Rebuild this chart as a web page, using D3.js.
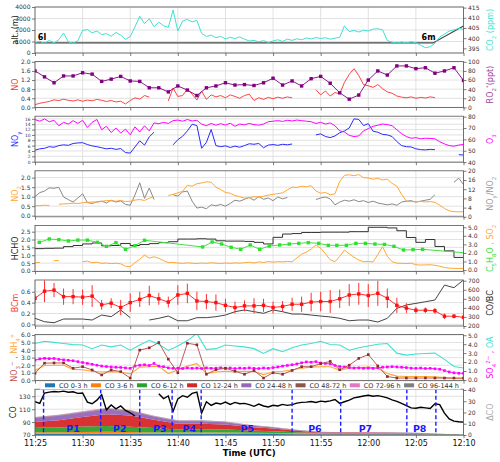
<!DOCTYPE html>
<html>
<head>
<meta charset="utf-8">
<script src="https://cdn.jsdelivr.net/npm/d3@7"></script>
<style>
body { margin: 0; background: #fff; }
svg text { font-family: "DejaVu Sans", sans-serif; }
</style>
</head>
<body>
<svg id="chart" width="500" height="462"></svg>
<script>
// ---- time (minutes after 11:25) ----
var timeTicks = [0, 5, 10, 15, 20, 25, 30, 35, 40, 45];
var timeLabels = ["11:25", "11:30", "11:35", "11:40", "11:45", "11:50", "11:55", "12:00", "12:05", "12:10"];
var tHalf = d3.range(0, 45.5, 0.5);   // 30 s samples
var tMin = d3.range(0, 46, 1);        // 1 min samples

// ---- panel 1: altitude / CO2 ----
var altMin = [0, 41.8, 45];
var alt = [880, 880, 2350];
var co2 = [397.8,398.5,397.4,398.9,397.6,399.3,402.5,398.2,397.5,398.8,
  403.8,404.2,402.6,403.5,401.8,402.2,401.0,402.8,401.5,399.4,
  400.8,405.5,410.8,407.2,409.5,405.6,407.8,406.1,405.3,413.8,
  403.5,408.4,409.2,408.0,408.7,402.4,400.8,401.5,400.2,400.9,
  399.6,400.4,399.8,400.6,399.5,398.6,398.9,398.2,398.8,397.9,
  398.6,399.2,398.4,399.5,398.9,399.7,399.2,400.1,399.6,400.3,
  399.8,400.2,399.5,400.0,400.4,406.0,403.2,403.8,403.0,403.9,
  403.5,404.4,404.6,404.1,398.8,398.0,397.6,398.1,397.7,398.2,
  397.8,396.5,395.3,395.8,397.5,400.5,402.0,403.5,404.0,404.8,
  404.3];
var altTicks = [0, 1000, 2000, 3000, 4000];
var co2Ticks = [395, 400, 405, 410, 415];

// ---- panel 2: NO / RO2* ----
var no = [0.12,0.18,0.22,0.26,0.33,0.30,0.36,0.31,0.28,0.33,
  0.27,0.32,0.29,0.35,0.31,0.26,0.30,0.24,0.27,0.15,
  0.30,0.42,0.36,0.52,0.45,null,null,null,0.28,0.85,
  0.48,0.52,0.80,0.58,0.32,0.72,0.35,0.55,0.46,0.52,
  0.42,0.55,0.48,0.40,0.52,0.58,0.30,0.42,0.35,0.44,
  0.38,0.45,0.40,0.46,0.42,null,null,null,null,0.78,
  0.55,0.72,0.50,0.65,0.60,1.10,1.45,1.70,1.40,1.00,
  0.95,0.88,1.00,0.82,0.68,0.62,0.50,0.45,0.42,0.46,
  0.40,0.44,0.41,0.46,0.43,null,null,null,null,null,
  null];
var ro2 = [80,67,54,69,69,76,73,57,62,68,58,57,43,43,34,47,38,26,43,47,
  54,49,50,48,54,64,49,58,47,63,68,53,32,18,27,60,80,71,91,91,
  85,87,75,80,87,59];
var noTicks = [0, 0.4, 0.8, 1.2, 1.6, 2.0];
var ro2Ticks = [0, 20, 40, 60, 80, 100];

// ---- panel 3: NOy / O3 ----
var noy = [4.3,4.8,5.0,5.6,5.4,6.0,6.3,6.1,6.8,7.0,
  7.1,6.4,5.9,5.6,5.2,4.8,5.0,4.6,4.9,3.4,
  3.2,5.5,7.8,6.2,9.3,11.0,null,null,null,6.3,
  8.2,9.5,11.5,14.0,13.5,5.0,7.2,12.0,6.0,5.6,
  5.9,5.3,5.8,5.4,6.0,6.7,6.5,6.8,5.2,6.2,
  6.4,6.1,6.5,6.3,6.6,null,null,null,null,10.0,
  10.4,9.4,9.0,9.6,10.8,11.5,12.6,16.0,15.8,13.5,
  14.2,11.4,11.0,10.2,10.0,9.4,7.5,6.0,5.6,5.5,
  4.8,4.5,4.4,4.6,4.5,null,null,null,null,2.6,
  2.5];
var o3 = [77.4,76.0,78.0,75.5,76.8,72.0,75.0,73.5,76.5,74.0,
  76.8,70.5,75.0,77.5,68.5,71.5,66.0,70.0,65.5,69.0,
  64.0,71.0,66.5,72.0,67.5,74.5,73.8,75.0,74.0,76.5,
  77.0,76.0,77.5,76.2,76.8,73.5,72.0,74.0,72.5,73.8,
  72.6,74.2,71.5,73.5,72.8,74.0,73.0,72.5,73.5,75.5,
  76.0,76.5,75.8,76.8,76.2,77.0,76.5,76.0,75.5,74.0,
  75.0,73.5,74.5,72.0,67.5,66.5,63.5,62.5,63.0,67.5,
  69.5,71.5,72.5,73.5,73.0,72.0,68.5,65.0,62.5,61.0,
  61.5,60.5,61.0,60.8,60.5,58.0,56.0,54.5,54.0,55.0,
  55.5];
var noyTicks = [0, 2, 4, 6, 8, 10, 12, 14, 16];
var o3Ticks = [40, 50, 60, 70, 80];

// ---- panel 4: NO2 / NOy/NO2 ----
var no2 = [0.52,0.53,0.55,0.54,null,0.60,0.62,0.63,0.66,0.64,
  0.68,0.70,0.72,0.71,0.75,0.80,0.78,0.76,0.80,0.74,
  0.76,0.82,0.85,0.80,0.92,1.00,null,null,1.06,1.12,
  1.20,1.28,1.60,1.55,1.68,1.72,1.78,1.76,1.50,1.38,
  1.22,1.18,1.06,1.00,0.92,0.95,1.00,0.98,1.02,1.08,
  1.12,1.16,1.20,1.35,1.50,1.48,1.55,1.52,1.58,1.30,
  1.18,1.22,1.10,1.15,1.80,2.12,2.15,2.10,2.16,2.00,
  1.98,1.92,1.96,1.88,1.92,1.70,1.55,1.12,0.76,0.74,
  0.73,0.75,0.72,0.74,0.70,0.55,0.38,0.25,0.21,0.20,
  0.21];
var ratio = [8.8,10.5,11.2,12.6,12.4,12.8,8.6,7.5,6.4,8.2,
  10.0,6.2,5.8,6.5,6.8,6.0,7.2,6.4,6.9,5.4,
  5.0,9.5,14.8,8.0,12.5,7.5,null,null,null,9.6,
  9.0,10.8,11.2,6.8,3.8,4.2,3.5,5.2,4.8,5.4,
  4.6,5.8,7.2,6.8,7.6,8.4,7.2,8.8,7.6,8.2,
  7.0,8.6,7.8,8.4,null,null,null,null,null,7.5,
  8.2,8.6,7.8,5.2,6.4,7.2,6.8,7.4,6.6,7.0,
  6.2,6.8,6.0,5.6,5.2,5.6,5.0,6.4,6.8,7.0,
  6.4,6.8,7.2,7.6,9.6,null,null,null,15.0,16.8,
  14.0];
var no2Ticks = [0, 0.5, 1.0, 1.5, 2.0];
var ratioTicks = [0, 4, 8, 12, 16, 20];

// ---- panel 5: HCHO / C5H8O, SO2 ----
var hcho = [1.42,1.44,1.45,1.55,1.62,1.72,1.78,1.60,1.62,1.75,
  1.62,1.68,1.74,1.80,1.86,2.03,2.03,2.05,2.03,1.92,
  1.90,1.90,1.88,1.82,1.72,2.14,2.35,2.38,2.45,2.45,
  2.47,2.47,2.47,2.50,2.50,2.78,2.78,2.74,2.56,2.13,
  1.82,2.00,1.56,1.28,0.86,0.86];
var c5Min = [0.45,1.5,2.5,3.5,4.5,5.5,6.55,7.5,8.5,9.5,10.5,11.5,
  17.6,18.6,19.6,20.6,21.6,22.6,23.6,24.6,25.7,26.7,27.7,28.7,29.8,30.8,
  31.7,32.7,33.7,34.7,35.7,36.7,37.7,38.7,39.7,40.7,45];
var c5 = [3.24,3.63,3.55,3.40,3.50,3.50,3.24,2.77,3.20,2.42,2.85,3.48,
  2.70,3.28,3.04,2.66,2.42,2.93,2.42,2.81,2.93,3.04,3.12,3.20,3.12,2.89,
  2.89,2.89,3.12,3.12,3.04,3.00,2.77,2.34,2.38,2.42,2.03];
var so2 = [0.86,0.88,null,null,1.09,1.12,null,null,null,null,
  0.97,1.05,0.85,0.92,0.78,0.82,0.75,0.80,0.72,0.45,
  0.38,0.85,1.25,1.76,1.40,1.55,1.37,1.10,0.86,0.90,
  0.82,0.78,0.84,0.80,0.76,0.82,0.78,0.85,0.80,0.76,
  0.82,0.78,0.84,0.80,0.86,0.92,0.82,0.96,0.88,1.00,
  0.92,0.98,0.95,1.02,0.96,1.40,1.85,2.10,2.45,2.93,
  2.55,1.90,1.20,0.97,1.60,2.34,1.90,1.50,1.17,0.97,
  1.00,0.95,1.80,2.73,1.60,0.97,0.80,0.78,0.75,0.80,
  0.62,0.58,0.60,0.62,0.55,0.45,0.30,0.22,0.20,0.18,
  0.20];
var hchoTicks = [0, 0.5, 1.0, 1.5, 2.0, 2.5];
var c5Ticks = [0, 1, 2, 3, 4, 5];

// ---- panel 6: BCm / CO/BC ----
var bcm = [0.48,0.61,0.63,0.51,0.51,0.50,0.52,0.36,0.39,0.31,
  0.40,0.46,0.53,0.47,0.41,0.54,0.57,0.43,0.42,0.40,
  0.35,0.31,0.34,0.34,0.35,0.31,0.33,0.37,0.37,0.41,
  0.42,0.42,0.47,0.54,0.56,0.53,0.57,0.48,0.35,0.30,
  0.26,0.26,0.25,0.15,0.15,0.13];
var bcmErr = [0.09,0.20,0.13,0.15,0.14,0.14,0.20,0.09,0.09,0.14,
  0.17,0.14,0.18,0.11,0.10,0.18,0.18,0.17,0.14,0.15,
  0.12,0.11,0.10,0.14,0.12,0.11,0.10,0.12,0.14,0.17,
  0.18,0.21,0.17,0.20,0.20,0.21,0.23,0.18,0.14,0.09,
  0.06,0.05,0.05,0.05,0.04,0.04];
var coBc = [285,247,236,277,277,277,266,321,303,377,
  292,null,266,285,310,258,258,292,292,303,
  321,358,377,358,340,377,358,332,332,321,
  310,300,285,258,266,266,244,285,395,432,
  450,468,487,652,623,708];
var bcmTicks = [0, 0.2, 0.4, 0.6];
var coBcTicks = [200, 300, 400, 500, 600, 700];

// ---- panel 7: NO3-, NH4+ / SO4, OA ----
var no3 = [0.93,2.27,2.3,2.3,1.6,1.8,1.37,0.71,1.37,1.15,
  0.3,4.0,4.3,5.0,2.8,1.0,4.9,4.7,0.8,1.4,
  1.6,1.2,0.8,1.3,0.3,1.0,0.8,1.3,1.8,1.8,
  2.2,2.5,1.4,2.0,2.9,3.4,1.9,0.5,0.3,0.3,
  0.3,0.3,0.3,0.3,0.3,0.3];
var nh4 = [1.3,1.95,2.0,2.0,1.45,1.4,1.2,1.1,1.15,1.1,
  0.85,1.75,1.8,1.85,0.9,1.4,1.9,2.2,0.9,1.1,
  1.2,1.15,1.2,1.15,0.75,1.1,1.2,1.4,1.6,1.75,
  1.8,1.8,1.35,1.6,1.7,1.75,1.6,0.9,0.55,0.5,
  0.5,0.5,0.45,0.35,0.25,0.2];
var oa = [4.07,4.33,4.2,4.07,3.95,3.9,3.5,3.9,3.7,3.9,
  3.33,3.9,4.44,4.0,3.3,3.8,4.4,5.2,3.4,3.5,
  3.9,3.8,3.7,3.5,2.96,3.5,3.15,3.6,3.9,4.07,
  4.33,3.96,3.9,3.33,3.6,3.8,4.0,4.07,3.0,2.78,
  2.9,2.96,3.0,2.3,1.5,1.33];
var so4 = [2.22,2.35,2.42,2.38,2.40,2.30,2.25,2.20,2.15,2.05,
  1.95,1.85,1.75,1.65,1.55,1.50,1.45,1.42,1.40,1.35,
  1.30,1.55,1.65,1.70,1.62,1.85,1.55,1.48,1.35,1.30,
  1.32,1.28,1.35,1.30,1.33,1.28,1.35,1.30,1.32,1.36,
  1.30,1.34,1.28,1.33,1.30,1.35,1.30,1.28,1.34,1.30,
  1.38,1.45,1.55,1.62,1.70,1.80,1.92,2.02,1.98,2.05,
  1.90,1.85,1.80,1.62,1.50,1.45,1.38,1.33,1.35,1.30,
  1.33,1.30,1.35,1.42,1.45,1.48,1.45,1.42,1.38,1.32,
  1.30,1.33,1.28,1.30,1.25,1.20,1.05,0.90,0.80,0.75,
  0.74];
var aerLTicks = [0, 1, 2, 3, 4, 5, 6];
var aerRTicks = [0, 1, 2, 3, 4, 5];

// ---- panel 8: CO / model CO contributions ----
var co = [121.5,119.0,135.0,136.5,137.5,136.8,138.0,136.2,137.0,134.5,
  135.2,121.0,118.5,124.0,132.5,109.0,116.5,110.5,115.0,108.0,
  104.5,99.5,null,null,null,null,134.0,126.5,130.5,106.5,
  126.0,131.0,128.5,134.5,136.5,104.0,121.5,116.0,119.5,118.0,
  121.0,117.5,120.5,118.5,119.0,117.0,114.5,118.0,115.0,113.5,
  116.0,115.0,117.5,116.0,117.0,119.5,120.5,121.0,122.0,120.5,
  122.5,121.5,123.0,125.0,119.0,121.5,124.0,127.5,129.0,130.5,
  131.5,130.0,131.0,129.5,127.5,124.5,122.0,119.0,115.5,112.0,
  111.5,113.0,112.0,111.0,118.5,117.0,104.0,95.0,91.5,90.5,
  90.0];
var coTimes = [0,2.5,5,7.5,10,12.5,15,17.5,20,22.5,25,27.5,30,32.5,35,37.5,40,42.5,45];
var co0_3   = [1.2,1.2,1.3,1.3,1.2,1.1,1.0,1.0,1.0,0.9,0.8,0.7,0.6,0.6,0.7,0.7,0.6,0.4,0.2];
var co3_6   = [1.3,1.3,1.4,1.5,1.4,1.2,1.1,1.1,1.1,1.0,0.9,0.8,0.7,0.6,0.6,0.6,0.5,0.3,0.1];
var co6_12  = [4.0,4.2,4.8,5.2,4.8,3.8,2.8,2.9,2.7,2.0,1.6,1.0,0.5,0.4,0.5,0.4,0.4,0.2,0.1];
var co12_24 = [5.0,6.5,8.5,10.5,10.0,7.5,5.0,5.0,4.6,3.3,2.4,1.3,0.5,0.5,0.4,0.3,0.3,0.2,0.1];
var co24_48 = [3.5,3.8,4.0,4.2,3.8,2.8,2.4,2.2,1.9,1.3,0.9,0.5,0.3,0.2,0.2,0.2,0.1,0.05,0];
var co48_72 = [0.5,0.5,0.5,0.6,0.5,0.3,0.3,0.3,0.3,0.2,0.2,0.1,0.1,0.1,0.1,0.05,0.05,0.02,0];
var co72_96 = [0.3,0.3,0.3,0.4,0.3,0.2,0.2,0.2,0.2,0.1,0.1,0.1,0.05,0.05,0.05,0.05,0.03,0.02,0];
var co96_144 = [0.2,0.2,0.2,0.3,0.2,0.1,0.2,0.3,0.2,0.2,0.1,0.05,0.05,0.05,0.05,0.05,0.02,0.01,0];
var coLabels = ["CO 0-3 h", "CO 3-6 h", "CO 6-12 h", "CO 12-24 h", "CO 24-48 h", "CO 48-72 h", "CO 72-96 h", "CO 96-144 h"];
var coColors = ["#1f77b4", "#ff7f0e", "#2ca02c", "#d62728", "#9467bd", "#8c564b", "#e377c2", "#7f7f7f"];
var coTicks = [70, 90, 110, 130];
var dcoTicks = [0, 10, 20, 30, 40];
var periodLines = [0.9, 6.9, 11.0, 14.4, 17.45, 27.0, 32.1, 39.05, 42.1];
var periodNames = ["P1", "P2", "P3", "P4", "P5", "P6", "P7", "P8"];
var periodMid = [4.0, 8.9, 13.1, 16.2, 22.3, 29.4, 34.7, 40.4];

// ---- layout ----
var svg = d3.select("#chart");
var xLeft = 35, xRight = 463.5;
var x = d3.scaleLinear().domain([0, 45]).range([xLeft, xRight]);
var gridColor = "#d9d9d9";
var panels = [];

function styleAxis(a, size) {
    a.select(".domain").remove();
    a.attr("font-size", size);
    a.selectAll("line").attr("stroke", "#444").attr("stroke-width", 0.7);
    a.selectAll("text").attr("fill", "#333");
}

function makePanel(i, lDom, rDom, lTicks, rTicks, lFmt, rFmt, lSize) {
    var top = 7 + i * 54.6, bot = top + 46;
    var p = { top: top, bot: bot };
    p.yL = d3.scaleLinear().domain(lDom).range([bot, top]);
    p.yR = d3.scaleLinear().domain(rDom).range([bot, top]);
    var g = svg.append("g");

    // grid
    g.selectAll("line.gx").data(timeTicks).enter().append("line")
        .attr("x1", function(d) { return x(d); }).attr("x2", function(d) { return x(d); })
        .attr("y1", top).attr("y2", bot)
        .attr("stroke", gridColor).attr("stroke-width", 0.8);
    g.selectAll("line.gy").data(lTicks).enter().append("line")
        .attr("x1", xLeft).attr("x2", xRight)
        .attr("y1", function(d) { return p.yL(d); }).attr("y2", function(d) { return p.yL(d); })
        .attr("stroke", gridColor).attr("stroke-width", 0.8);

    // axes
    g.append("g").attr("transform", "translate(" + xLeft + ",0)")
        .call(d3.axisLeft(p.yL).tickValues(lTicks).tickFormat(d3.format(lFmt)).tickSize(3).tickSizeOuter(0).tickPadding(1.5))
        .call(function(a) { styleAxis(a, lSize || 6); });
    g.append("g").attr("transform", "translate(" + xRight + ",0)")
        .call(d3.axisRight(p.yR).tickValues(rTicks).tickFormat(d3.format(rFmt)).tickSize(3).tickSizeOuter(0).tickPadding(1.5))
        .call(function(a) { styleAxis(a, 6); });
    var bx = d3.axisBottom(x).tickValues(timeTicks).tickSize(3).tickSizeOuter(0);
    if (i === 7) {
        bx.tickFormat(function(d, j) { return timeLabels[j]; }).tickPadding(2);
    } else {
        bx.tickFormat("");
    }
    g.append("g").attr("transform", "translate(0," + bot + ")")
        .call(bx).call(function(a) { styleAxis(a, 8); a.selectAll("text").attr("fill", "#111"); });

    svg.append("clipPath").attr("id", "clip" + i)
        .append("rect").attr("x", xLeft).attr("y", top).attr("width", xRight - xLeft).attr("height", 46);
    p.g = svg.append("g").attr("clip-path", "url(#clip" + i + ")");
    panels.push(p);
    return p;
}

function drawLine(p, xs, ys, y, color, width, curve) {
    var pts = xs.map(function(t, j) { return [t, ys[j]]; });
    var line = d3.line()
        .defined(function(d) { return d[1] != null; })
        .x(function(d) { return x(d[0]); })
        .y(function(d) { return y(d[1]); })
        .curve(curve || d3.curveLinear);
    p.g.append("path").datum(pts).attr("d", line)
        .attr("fill", "none").attr("stroke", color).attr("stroke-width", width || 1);
}

function drawSquares(p, xs, ys, y, color, size) {
    var pts = xs.map(function(t, j) { return [t, ys[j]]; })
        .filter(function(d) { return d[1] != null; });
    p.g.selectAll(null).data(pts).enter().append("rect")
        .attr("x", function(d) { return x(d[0]) - size / 2; })
        .attr("y", function(d) { return y(d[1]) - size / 2; })
        .attr("width", size).attr("height", size)
        .attr("fill", color);
}

// rotated axis titles built from coloured pieces
function axisTitle(xp, yc, parts) {
    var t = svg.append("text")
        .attr("transform", "translate(" + xp + "," + yc + ") rotate(-90)")
        .attr("text-anchor", "middle").style("font-size", "8px");
    parts.forEach(function(s) {
        var ts = t.append("tspan").text(s[0]).attr("fill", s[1]);
        if (s[2]) ts.attr("baseline-shift", s[2]).style("font-size", "5.5px");
    });
}

// ---- panel 1 ----
var p1 = makePanel(0, [0, 4000], [392.7, 415.3], altTicks, co2Ticks, "d", "d");
drawLine(p1, altMin, alt, p1.yL, "#444", 1.1);
drawLine(p1, tHalf, co2, p1.yR, "#40e0d0", 1);
p1.g.append("text").attr("x", x(0.3)).attr("y", 40).text("6l")
    .style("font-size", "8px").style("font-weight", "bold");
p1.g.append("text").attr("x", x(40.6)).attr("y", 40).text("6m")
    .style("font-size", "8px").style("font-weight", "bold");

// ---- panel 2 ----
var p2 = makePanel(1, [-0.01, 2.01], [-0.5, 100.5], noTicks, ro2Ticks, ".1f", "d");
drawLine(p2, tHalf, no, p2.yL, "#ff3030", 0.9);
drawLine(p2, tMin, ro2, p2.yR, "#8b1a8b", 1);
drawSquares(p2, tMin, ro2, p2.yR, "#800080", 3.4);

// ---- panel 3 (crowded left ticks, drawn small) ----
var p3 = makePanel(2, [-0.2, 17], [39.9, 80.4], noyTicks, o3Ticks, "d", "d", 4.4);
drawLine(p3, tHalf, noy, p3.yL, "#2a2aff", 1);
drawLine(p3, tHalf, o3, p3.yR, "#ff00ff", 1);

// ---- panel 4 ----
var p4 = makePanel(3, [-0.06, 2.36], [0, 20], no2Ticks, ratioTicks, ".1f", "d");
drawLine(p4, tHalf, ratio, p4.yR, "#888", 1);
drawLine(p4, tHalf, no2, p4.yL, "#ffa733", 1);

// ---- panel 5 ----
var p5 = makePanel(4, [-0.03, 2.9], [-0.16, 5.22], hchoTicks, c5Ticks, ".1f", ".1f");
drawLine(p5, tMin, hcho, p5.yL, "#333", 1, d3.curveStepAfter);
drawLine(p5, tHalf, so2, p5.yR, "#ffa733", 1);
drawLine(p5, c5Min, c5, p5.yR, "#44e044", 1);
drawSquares(p5, c5Min.slice(0, -1), c5.slice(0, -1), p5.yR, "#2ee02e", 3.4);

// ---- panel 6 ----
var p6 = makePanel(5, [-0.03, 0.816], [200, 708], bcmTicks, coBcTicks, ".1f", "d");
drawLine(p6, tMin, coBc, p6.yR, "#444", 1);
p6.g.selectAll(null).data(tMin).enter().append("line")
    .attr("x1", function(d) { return x(d); }).attr("x2", function(d) { return x(d); })
    .attr("y1", function(d, j) { return p6.yL(bcm[j] - bcmErr[j]); })
    .attr("y2", function(d, j) { return p6.yL(bcm[j] + bcmErr[j]); })
    .attr("stroke", "#ff3030").attr("stroke-width", 1);
drawLine(p6, tMin, bcm, p6.yL, "#ff3030", 1);
drawSquares(p6, tMin, bcm, p6.yL, "#ff1010", 3.4);

// ---- panel 7 ----
var p7 = makePanel(6, [-0.04, 6.05], [-0.07, 5.07], aerLTicks, aerRTicks, ".1f", ".1f");
drawLine(p7, tMin, oa, p7.yR, "#40e0d0", 1.1);
drawLine(p7, tMin, nh4, p7.yL, "#ffa733", 1.1);
drawLine(p7, tHalf, so4, p7.yR, "#ff00ff", 0.9);
drawSquares(p7, tHalf, so4, p7.yR, "#ff00ff", 2.6);
drawLine(p7, tMin, no3, p7.yL, "#b85a5a", 1);
drawSquares(p7, tMin, no3, p7.yL, "#8b2a2a", 2.6);

// ---- panel 8 ----
var p8 = makePanel(7, [69.7, 141], [-0.2, 40.7], coTicks, dcoTicks, "d", "d");
var coLayers = [co0_3, co3_6, co6_12, co12_24, co24_48, co48_72, co72_96, co96_144];
var coRows = coTimes.map(function(t, j) {
    var row = { t: t };
    coLayers.forEach(function(layer, k) { row["k" + k] = layer[j]; });
    return row;
});
var coKeys = coLabels.map(function(d, k) { return "k" + k; });
var stacked = d3.stack().keys(coKeys)(coRows);
var area = d3.area()
    .x(function(d) { return x(d.data.t); })
    .y0(function(d) { return p8.yR(d[0]); })
    .y1(function(d) { return p8.yR(d[1]); });
p8.g.selectAll("path.layer").data(stacked).enter().append("path")
    .attr("class", "layer")
    .attr("d", area)
    .attr("fill", function(d, k) { return coColors[k]; })
    .attr("opacity", 0.95);
drawLine(p8, tHalf, co, p8.yL, "#000", 1.4);
p8.g.selectAll("line.period").data(periodLines).enter().append("line")
    .attr("class", "period")
    .attr("x1", function(d) { return x(d); }).attr("x2", function(d) { return x(d); })
    .attr("y1", p8.top).attr("y2", p8.bot)
    .attr("stroke", "#1a1aff").attr("stroke-width", 1.4).attr("stroke-dasharray", "4,2.5");
p8.g.selectAll("text.period").data(periodNames).enter().append("text")
    .attr("class", "period")
    .attr("x", function(d, j) { return x(periodMid[j]); })
    .attr("y", 431.5)
    .attr("text-anchor", "middle")
    .style("font-size", "9.5px").style("font-weight", "bold")
    .attr("fill", "#1a1aff")
    .text(function(d) { return d; });

// frames
panels.forEach(function(p) {
    svg.append("rect").attr("x", xLeft).attr("y", p.top)
        .attr("width", xRight - xLeft).attr("height", 46)
        .attr("fill", "none").attr("stroke", "#555").attr("stroke-width", 0.8);
});

// legend for the CO contributions
var lg = svg.append("g");
lg.append("rect").attr("x", 40).attr("y", 381.2).attr("width", 421).attr("height", 8)
    .attr("fill", "#fff").attr("stroke", "#ddd").attr("stroke-width", 0.5);
var items = lg.selectAll("g.item").data(coLabels).enter().append("g").attr("class", "item");
items.append("rect").attr("y", 383.3).attr("width", 10).attr("height", 4)
    .attr("fill", function(d, k) { return coColors[k]; });
items.append("text").attr("x", 14).attr("y", 387.6)
    .style("font-size", "6.5px").attr("fill", "#333")
    .text(function(d) { return d; });
var widths = [];
items.select("text").each(function() { widths.push(this.getComputedTextLength()); });
var gap = (459 - 45 - d3.sum(widths) - 14 * widths.length) / (widths.length - 1);
var cx = 45;
items.attr("transform", function(d, k) {
    var tr = "translate(" + cx + ",0)";
    cx += 14 + widths[k] + gap;
    return tr;
});

// axis titles
var leftX = 18, rightX = 493;
function mid(p) { return (p.top + p.bot) / 2; }
axisTitle(leftX, mid(p1), [["alt. (m)", "#222"]]);
axisTitle(leftX, mid(p2), [["NO", "#ff3030"]]);
axisTitle(leftX, mid(p3), [["NO", "#2a2aff"], ["y", "#2a2aff", "sub"]]);
axisTitle(leftX, mid(p4), [["NO", "#ffa733"], ["2", "#ffa733", "sub"]]);
axisTitle(leftX, mid(p5), [["HCHO", "#222"]]);
axisTitle(leftX, mid(p6), [["BCm", "#ff3030"]]);
axisTitle(16.5, mid(p7), [["NO", "#c0504d"], ["3", "#c0504d", "sub"], ["\u2212", "#c0504d", "super"],
    [" , ", "#c0504d"], ["NH", "#ffa733"], ["4", "#ffa733", "sub"], ["+", "#ffa733", "super"]]);
axisTitle(15.5, mid(p8), [["CO", "#222"]]);

axisTitle(rightX, mid(p1), [["CO", "#40e0d0"], ["2", "#40e0d0", "sub"], [" (ppm)", "#40e0d0"]]);
axisTitle(rightX, mid(p2), [["RO", "#a040a0"], ["2", "#a040a0", "sub"], ["*", "#a040a0", "super"], ["(ppt)", "#a040a0"]]);
axisTitle(rightX, mid(p3), [["O", "#ff00ff"], ["3", "#ff00ff", "sub"]]);
axisTitle(rightX, mid(p4), [["NO", "#999"], ["y", "#999", "sub"], ["/NO", "#999"], ["2", "#999", "sub"]]);
axisTitle(rightX, mid(p5), [["C", "#33dd33"], ["5", "#33dd33", "sub"], ["H", "#33dd33"], ["8", "#33dd33", "sub"],
    ["O", "#33dd33"], [" , ", "#ffa733"], ["SO", "#ffa733"], ["2", "#ffa733", "sub"]]);
axisTitle(rightX, mid(p6), [["CO/BC", "#222"]]);
axisTitle(rightX, mid(p7), [["SO", "#ff00ff"], ["4", "#ff00ff", "sub"], ["2\u2212", "#ff00ff", "super"],
    [" , ", "#ff00ff"], ["OA", "#40e0d0"]]);
axisTitle(rightX, mid(p8), [["\u0394CO", "#aaa"]]);

// x title
svg.append("text").attr("x", (xLeft + xRight) / 2).attr("y", 456)
    .attr("text-anchor", "middle")
    .style("font-size", "8.5px").style("font-weight", "bold")
    .text("Time (UTC)");
</script>
</body>
</html>
